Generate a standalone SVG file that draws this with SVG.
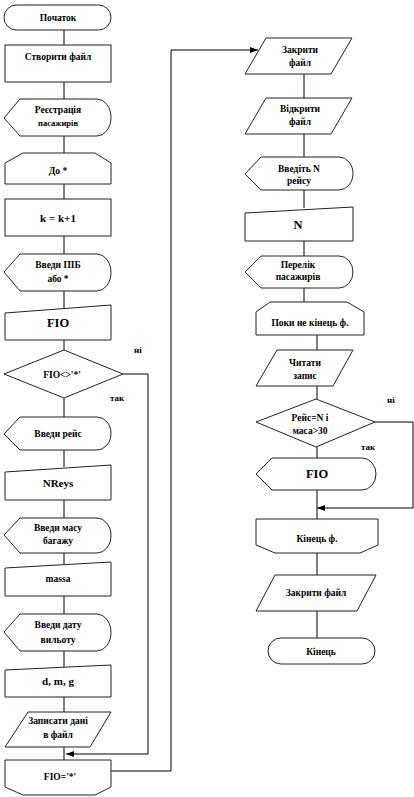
<svg xmlns="http://www.w3.org/2000/svg" width="414" height="797" viewBox="0 0 414 797" font-family="'Liberation Serif', 'Times New Roman', serif">
<defs>
<marker id="arr" viewBox="0 0 8 6" refX="8" refY="3" markerWidth="8" markerHeight="6" markerUnits="userSpaceOnUse" orient="auto">
<path d="M0,0 L8,3 L0,6 Z" fill="#000"/>
</marker>
<style>
.s{fill:#fff;stroke:#222;stroke-width:1}
.c{fill:none;stroke:#000;stroke-width:1}
text{font-family:'Liberation Serif','Times New Roman',serif;font-weight:bold;fill:#000;text-anchor:middle;font-size:9.5px}
.b{font-size:12.5px}
.m{font-size:11px}
.l{font-size:9px;text-anchor:start}
</style>
</defs>
<rect width="414" height="797" fill="#fff"/>
<g id="connectors">
<path class="c" d="M64,30V45M64,82V99M64,136V153M64,184V199M64,236V254M64,291V309M64,340V350M64,398V417M64,450V467M64,500V518M64,553V564M64,596V614M64,651V667M64,697V712M64,747V760"/>
<polyline class="c" points="123,374 148,374 148,754 66,754" marker-end="url(#arr)"/>
<polyline class="c" points="111,771 171,771 171,50 258,50" marker-end="url(#arr)"/>
<path class="c" d="M304,74V98M304,134V157M304,190V208M304,241V256M304,288V302M317,335V350M317,386V399M317,447V458M317,490V519M317,553V575M317,611V638"/>
<polyline class="c" points="375,422 413,422 413,508 317,508" marker-end="url(#arr)"/>
</g>
<g id="n_start"><rect class="s" x="4" y="5" width="107" height="25" rx="12.5"/><text x="58" y="21">Початок</text></g>
<g id="n_create"><rect class="s" x="5" y="45" width="106" height="37"/><text x="58" y="60">Створити файл</text></g>
<g id="n_reg"><path class="s" d="M4,118 L20,99 H97 A14,18.5 0 0 1 97,136 H20 Z"/><text x="58" y="113">Реєстрація</text><text x="58" y="126" style="font-size:8.5px">пасажирів</text></g>
<g id="n_loop1"><path class="s" d="M5,163 L23,153 H95 L111,163 V184 H5 Z"/><text x="58" y="174">До *</text></g>
<g id="n_k"><rect class="s" x="5" y="199" width="106" height="37"/><text class="m" x="58" y="222">k = k+1</text></g>
<g id="n_inFIO"><path class="s" d="M4,272 L20,254 H97 A14,18.5 0 0 1 97,291 H20 Z"/><text x="58" y="268">Введи ПІБ</text><text x="58" y="282">або *</text></g>
<g id="n_FIO"><path class="s" d="M5,313 L111,305 V340 H5 Z"/><text class="b" x="58" y="327">FIO</text></g>
<g id="n_dec1"><path class="s" d="M64,350 L123,374 L64,398 L4,374 Z"/><text x="62" y="378">FIO&lt;&gt;'*'</text></g>
<text class="l" x="134" y="353">ні</text>
<text class="l" x="110" y="401">так</text>
<g id="n_inReys"><path class="s" d="M4,434 L20,417 H97 A14,16.5 0 0 1 97,450 H20 Z"/><text x="58" y="437">Введи рейс</text></g>
<g id="n_NReys"><path class="s" d="M5,472 L111,465 V500 H5 Z"/><text class="m" x="58" y="487">NReys</text></g>
<g id="n_inMassa"><path class="s" d="M4,535 L20,518 H97 A14,17.5 0 0 1 97,553 H20 Z"/><text x="58" y="531">Введи масу</text><text x="58" y="544">багажу</text></g>
<g id="n_massa"><path class="s" d="M5,568 L111,562 V596 H5 Z"/><text x="58" y="582">massa</text></g>
<g id="n_inDate"><path class="s" d="M4,632 L20,614 H97 A14,18.5 0 0 1 97,651 H20 Z"/><text x="58" y="628">Введи дату</text><text x="58" y="643">вильоту</text></g>
<g id="n_dmg"><path class="s" d="M5,670 L111,665 V697 H5 Z"/><text class="m" x="58" y="685">d, m, g</text></g>
<g id="n_write"><path class="s" d="M28,712 H111 L90,747 H5 Z"/><text x="58" y="724">Записати дані</text><text x="58" y="738">в файл</text></g>
<g id="n_loop1end"><path class="s" d="M5,760 H111 V787 L95,795 H23 L5,787 Z"/><text x="60" y="780">FIO='*'</text></g>
<g id="n_close1"><path class="s" d="M266,38 H352 L331,74 H245 Z"/><text x="300" y="53">Закрити</text><text x="300" y="66">файл</text></g>
<g id="n_open"><path class="s" d="M266,98 H352 L331,134 H245 Z"/><text x="300" y="112">Відкрити</text><text x="300" y="125">файл</text></g>
<g id="n_inN"><path class="s" d="M245,174 L261,157 H339 A14,16.5 0 0 1 339,190 H261 Z"/><text x="299" y="172">Введіть N</text><text x="299" y="184">рейсу</text></g>
<g id="n_N"><path class="s" d="M245,213 L353,207 V241 H245 Z"/><text class="b" x="298" y="229">N</text></g>
<g id="n_list"><path class="s" d="M245,272 L261,256 H339 A14,16 0 0 1 339,288 H261 Z"/><text x="298" y="268">Перелік</text><text x="298" y="280">пасажирів</text></g>
<g id="n_loop2"><path class="s" d="M256,312 L270,302 H347 L364,312 V335 H256 Z"/><text x="310" y="326">Поки не кінець ф.</text></g>
<g id="n_read"><path class="s" d="M277,350 H353 L333,386 H256 Z"/><text x="305" y="366">Читати</text><text x="305" y="379">запис</text></g>
<g id="n_dec2"><path class="s" d="M316,399 L375,422 L316,447 L256,422 Z"/><text x="310" y="421">Рейс=N і</text><text x="310" y="434">маса&gt;30</text></g>
<text class="l" x="387" y="403">ні</text>
<text class="l" x="361" y="450">так</text>
<g id="n_outFIO"><path class="s" d="M256,474 L272,458 H362 A14,16 0 0 1 362,490 H272 Z"/><text class="b" x="317" y="478">FIO</text></g>
<g id="n_loop2end"><path class="s" d="M256,519 H378 V545 L360,553 H275 L256,545 Z"/><text x="317" y="542">Кінець ф.</text></g>
<g id="n_close2"><path class="s" d="M275,575 H376 L357,611 H256 Z"/><text x="316" y="596">Закрити файл</text></g>
<g id="n_end"><rect class="s" x="268" y="638" width="107" height="26" rx="13"/><text x="321" y="655">Кінець</text></g>
</svg>
